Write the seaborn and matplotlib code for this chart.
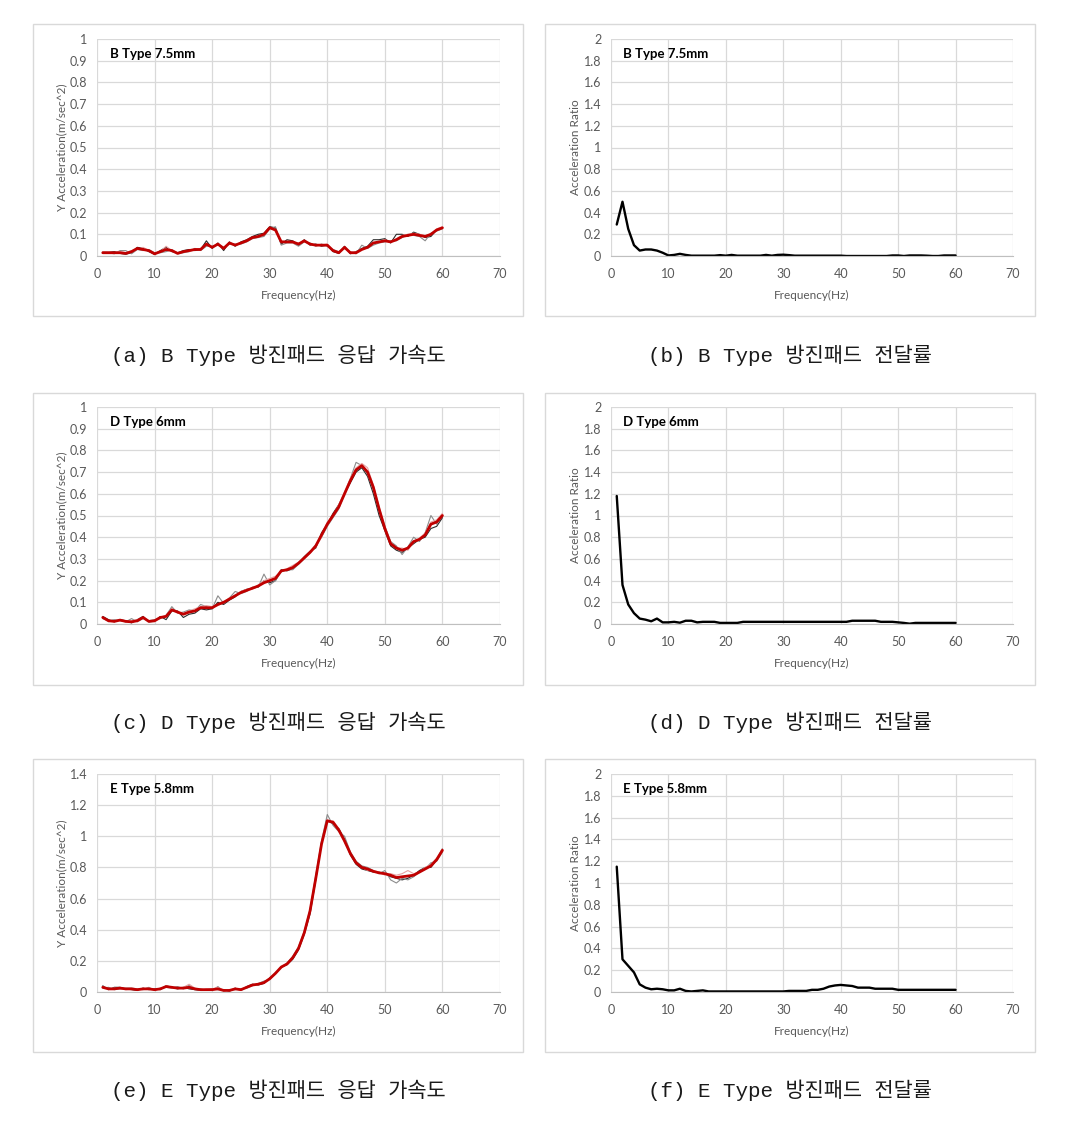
import numpy as np
import pandas as pd
import matplotlib
matplotlib.use("Agg")
import matplotlib.pyplot as plt
import seaborn as sns
from matplotlib.patches import Rectangle
from matplotlib.ticker import FuncFormatter

# ============================================================
# Data
# ============================================================

freq = list(range(1, 61))

# B Type 7.5mm - response acceleration (red = mean, others = runs)
b_mean = [0.015, 0.015, 0.015, 0.015, 0.012, 0.02, 0.035, 0.03, 0.025, 0.01,
          0.02, 0.03, 0.025, 0.012, 0.02, 0.025, 0.03, 0.03, 0.055, 0.04,
          0.055, 0.035, 0.06, 0.05, 0.06, 0.07, 0.085, 0.09, 0.1, 0.13,
          0.12, 0.065, 0.065, 0.065, 0.055, 0.07, 0.055, 0.05, 0.05, 0.05,
          0.025, 0.015, 0.04, 0.015, 0.015, 0.03, 0.04, 0.06, 0.065, 0.07,
          0.065, 0.075, 0.09, 0.095, 0.1, 0.095, 0.09, 0.1, 0.12, 0.13]
b_run1 = [0.018, 0.017, 0.02, 0.012, 0.008, 0.015, 0.04, 0.035, 0.02, 0.008,
          0.025, 0.04, 0.02, 0.015, 0.025, 0.03, 0.025, 0.03, 0.07, 0.035,
          0.06, 0.025, 0.065, 0.045, 0.065, 0.075, 0.09, 0.1, 0.105, 0.135,
          0.13, 0.055, 0.075, 0.07, 0.05, 0.075, 0.05, 0.055, 0.045, 0.05,
          0.02, 0.012, 0.045, 0.01, 0.02, 0.035, 0.045, 0.075, 0.075, 0.08,
          0.06, 0.1, 0.1, 0.09, 0.11, 0.1, 0.085, 0.09, 0.12, 0.13]
b_run2 = [0.012, 0.015, 0.01, 0.025, 0.025, 0.01, 0.03, 0.025, 0.03, 0.015,
          0.015, 0.02, 0.03, 0.01, 0.015, 0.02, 0.035, 0.025, 0.045, 0.045,
          0.05, 0.04, 0.055, 0.055, 0.055, 0.065, 0.08, 0.085, 0.09, 0.125,
          0.135, 0.05, 0.06, 0.06, 0.045, 0.065, 0.06, 0.045, 0.055, 0.045,
          0.03, 0.02, 0.035, 0.02, 0.01, 0.05, 0.035, 0.05, 0.06, 0.065,
          0.07, 0.07, 0.085, 0.1, 0.095, 0.09, 0.07, 0.105, 0.115, 0.125]
b_run3 = [0.02, 0.018, 0.015, 0.02, 0.015, 0.025, 0.03, 0.04, 0.025, 0.012,
          0.02, 0.045, 0.025, 0.015, 0.02, 0.02, 0.03, 0.035, 0.05, 0.04,
          0.055, 0.04, 0.06, 0.05, 0.06, 0.07, 0.085, 0.09, 0.1, 0.13,
          0.115, 0.07, 0.065, 0.06, 0.06, 0.065, 0.055, 0.05, 0.05, 0.055,
          0.025, 0.018, 0.04, 0.018, 0.018, 0.03, 0.04, 0.06, 0.065, 0.075,
          0.065, 0.08, 0.095, 0.1, 0.105, 0.1, 0.095, 0.1, 0.125, 0.135]

# B Type - transmissibility
b_ratio = [0.29, 0.5, 0.25, 0.1, 0.05, 0.06, 0.06, 0.05, 0.03, 0.005,
           0.01, 0.02, 0.01, 0.003, 0.003, 0.003, 0.003, 0.003, 0.008, 0.003,
           0.01, 0.003, 0.003, 0.003, 0.003, 0.003, 0.01, 0.003, 0.01, 0.012,
           0.008, 0.003, 0.003, 0.003, 0.003, 0.003, 0.003, 0.003, 0.003, 0.003,
           0.0, 0.0, 0.0, 0.0, 0.0, 0.0, 0.0, 0.0, 0.005, 0.005,
           0.0, 0.005, 0.005, 0.005, 0.003, 0.0, 0.0, 0.005, 0.005, 0.005]

# D Type 6mm - response acceleration
d_mean = [0.03, 0.015, 0.012, 0.018, 0.012, 0.01, 0.015, 0.03, 0.012, 0.015,
          0.03, 0.035, 0.065, 0.055, 0.045, 0.055, 0.06, 0.075, 0.075, 0.075,
          0.09, 0.1, 0.115, 0.13, 0.145, 0.155, 0.165, 0.175, 0.19, 0.2,
          0.21, 0.245, 0.25, 0.26, 0.28, 0.305, 0.33, 0.36, 0.41, 0.46,
          0.5, 0.54, 0.6, 0.66, 0.71, 0.73, 0.7, 0.63, 0.53, 0.44,
          0.37, 0.35, 0.34, 0.35, 0.38, 0.39, 0.41, 0.46, 0.47, 0.5]
d_run1 = [0.035, 0.02, 0.01, 0.02, 0.015, 0.005, 0.02, 0.035, 0.01, 0.012,
          0.035, 0.02, 0.06, 0.06, 0.03, 0.045, 0.05, 0.07, 0.065, 0.07,
          0.1, 0.09, 0.11, 0.125, 0.15, 0.16, 0.165, 0.17, 0.2, 0.19,
          0.2, 0.25, 0.245, 0.255, 0.28, 0.31, 0.335, 0.35, 0.42, 0.46,
          0.51, 0.55, 0.6, 0.65, 0.7, 0.72, 0.68, 0.6, 0.5, 0.43,
          0.36, 0.34, 0.33, 0.35, 0.37, 0.39, 0.4, 0.44, 0.45, 0.49]
d_run2 = [0.025, 0.015, 0.02, 0.015, 0.01, 0.025, 0.01, 0.025, 0.015, 0.02,
          0.025, 0.04, 0.08, 0.05, 0.055, 0.065, 0.06, 0.09, 0.08, 0.07,
          0.13, 0.095, 0.12, 0.15, 0.14, 0.15, 0.17, 0.17, 0.23, 0.18,
          0.2, 0.24, 0.25, 0.25, 0.275, 0.3, 0.33, 0.365, 0.4, 0.45,
          0.49, 0.53, 0.6, 0.67, 0.745, 0.73, 0.69, 0.62, 0.52, 0.45,
          0.38, 0.36, 0.32, 0.355, 0.4, 0.38, 0.42, 0.5, 0.46, 0.5]
d_run3 = [0.03, 0.01, 0.015, 0.02, 0.01, 0.015, 0.02, 0.03, 0.015, 0.01,
          0.03, 0.04, 0.07, 0.05, 0.05, 0.06, 0.07, 0.08, 0.085, 0.08,
          0.085, 0.1, 0.12, 0.13, 0.15, 0.16, 0.16, 0.18, 0.2, 0.21,
          0.22, 0.24, 0.255, 0.27, 0.285, 0.3, 0.325, 0.355, 0.4, 0.47,
          0.5, 0.55, 0.61, 0.67, 0.72, 0.74, 0.72, 0.64, 0.54, 0.45,
          0.375, 0.35, 0.35, 0.34, 0.38, 0.395, 0.42, 0.47, 0.48, 0.51]

# D Type - transmissibility
d_ratio = [1.18, 0.36, 0.18, 0.1, 0.05, 0.04, 0.025, 0.05, 0.015, 0.015,
           0.02, 0.012, 0.03, 0.03, 0.015, 0.02, 0.02, 0.02, 0.01, 0.01,
           0.01, 0.01, 0.02, 0.02, 0.02, 0.02, 0.02, 0.02, 0.02, 0.02,
           0.02, 0.02, 0.02, 0.02, 0.02, 0.02, 0.02, 0.02, 0.02, 0.02,
           0.02, 0.03, 0.03, 0.03, 0.03, 0.03, 0.02, 0.02, 0.02, 0.015,
           0.01, 0.003, 0.01, 0.01, 0.01, 0.01, 0.01, 0.01, 0.01, 0.01]

# E Type 5.8mm - response acceleration
e_mean = [0.03, 0.02, 0.02, 0.025, 0.02, 0.02, 0.015, 0.02, 0.02, 0.015,
          0.02, 0.035, 0.03, 0.025, 0.025, 0.03, 0.02, 0.015, 0.015, 0.015,
          0.02, 0.01, 0.01, 0.02, 0.015, 0.03, 0.045, 0.05, 0.06, 0.085,
          0.12, 0.16, 0.18, 0.22, 0.28, 0.38, 0.52, 0.73, 0.95, 1.1,
          1.09, 1.04, 0.97, 0.89, 0.83, 0.8, 0.79, 0.775, 0.765, 0.76,
          0.75, 0.735, 0.74, 0.745, 0.75, 0.77, 0.79, 0.81, 0.85, 0.91]
e_run1 = [0.04, 0.015, 0.03, 0.03, 0.02, 0.015, 0.01, 0.025, 0.015, 0.02,
          0.015, 0.04, 0.03, 0.02, 0.03, 0.02, 0.015, 0.01, 0.015, 0.02,
          0.015, 0.015, 0.005, 0.025, 0.01, 0.035, 0.05, 0.045, 0.055, 0.09,
          0.12, 0.16, 0.175, 0.21, 0.27, 0.37, 0.5, 0.72, 0.96, 1.1,
          1.08, 1.05, 0.98, 0.88, 0.82, 0.79, 0.78, 0.77, 0.77, 0.76,
          0.74, 0.73, 0.72, 0.73, 0.75, 0.78, 0.8, 0.8, 0.85, 0.92]
e_run2 = [0.025, 0.03, 0.015, 0.02, 0.025, 0.025, 0.02, 0.015, 0.03, 0.01,
          0.025, 0.03, 0.025, 0.035, 0.02, 0.045, 0.015, 0.02, 0.01, 0.01,
          0.035, 0.005, 0.015, 0.015, 0.02, 0.025, 0.04, 0.055, 0.07, 0.08,
          0.125, 0.155, 0.185, 0.23, 0.29, 0.39, 0.53, 0.75, 0.97, 1.14,
          1.07, 1.03, 1.0, 0.9, 0.84, 0.81, 0.8, 0.78, 0.76, 0.78,
          0.72, 0.7, 0.73, 0.72, 0.74, 0.77, 0.79, 0.83, 0.84, 0.9]
e_run3 = [0.035, 0.02, 0.025, 0.02, 0.015, 0.02, 0.02, 0.02, 0.025, 0.015,
          0.02, 0.04, 0.03, 0.025, 0.03, 0.05, 0.025, 0.01, 0.02, 0.02,
          0.03, 0.01, 0.01, 0.02, 0.01, 0.03, 0.045, 0.05, 0.06, 0.085,
          0.115, 0.165, 0.18, 0.22, 0.28, 0.38, 0.52, 0.74, 0.95, 1.09,
          1.1, 1.05, 0.96, 0.89, 0.83, 0.8, 0.78, 0.78, 0.77, 0.75,
          0.76, 0.75, 0.76, 0.78, 0.76, 0.77, 0.8, 0.82, 0.86, 0.92]

# E Type - transmissibility
e_ratio = [1.15, 0.3, 0.24, 0.18, 0.07, 0.04, 0.025, 0.03, 0.025, 0.015,
           0.015, 0.03, 0.01, 0.005, 0.01, 0.015, 0.005, 0.005, 0.005, 0.005,
           0.005, 0.005, 0.005, 0.005, 0.005, 0.005, 0.005, 0.005, 0.005, 0.005,
           0.01, 0.01, 0.01, 0.01, 0.02, 0.02, 0.03, 0.05, 0.06, 0.065,
           0.06, 0.055, 0.04, 0.04, 0.04, 0.03, 0.03, 0.03, 0.03, 0.02,
           0.02, 0.02, 0.02, 0.02, 0.02, 0.02, 0.02, 0.02, 0.02, 0.02]

labels = ["B Type 7.5mm", "D Type 6mm", "E Type 5.8mm"]
acc_ymax = [1.0, 1.0, 1.4]
acc_ystep = [0.1, 0.1, 0.2]
left_caps = ["(a) B Type 방진패드 응답 가속도",
             "(c) D Type 방진패드 응답 가속도",
             "(e) E Type 방진패드 응답 가속도"]
right_caps = ["(b) B Type 방진패드 전달률",
              "(d) D Type 방진패드 전달률",
              "(f) E Type 방진패드 전달률"]

acc_runs = [(b_run1, b_run2, b_run3, b_mean),
            (d_run1, d_run2, d_run3, d_mean),
            (e_run1, e_run2, e_run3, e_mean)]
ratios = [b_ratio, d_ratio, e_ratio]

# ============================================================
# Figure setup
# ============================================================

sns.set_style("white")
plt.rcParams["font.family"] = ["Lato", "DejaVu Sans"]

W, H = 1065, 1121
fig = plt.figure(figsize=(W / 100, H / 100), dpi=100)

tick_col = "#595959"
grid_col = "#d9d9d9"


def px_axes(l, r, t, b):
    return fig.add_axes([l / W, 1 - b / H, (r - l) / W, (b - t) / H])


def style_axes(ax, ymax, ystep, ylabel):
    ax.set_xlim(0, 70)
    ax.set_ylim(0, ymax)
    ax.set_xticks(np.arange(0, 71, 10))
    ax.set_yticks(np.arange(0, ymax + ystep / 2, ystep))
    ax.yaxis.set_major_formatter(FuncFormatter(lambda v, p: f"{round(v, 2):g}"))
    ax.grid(True, color=grid_col, linewidth=0.9)
    ax.set_axisbelow(True)
    for s in ["top", "right", "left"]:
        ax.spines[s].set_visible(False)
    ax.spines["bottom"].set_color("#bfbfbf")
    ax.tick_params(axis="x", length=0, labelsize=9, labelcolor=tick_col, pad=9)
    ax.tick_params(axis="y", length=0, labelsize=9, labelcolor=tick_col, pad=7)
    ax.set_xlabel("Frequency(Hz)", fontsize=8.5, color=tick_col, labelpad=7)
    ax.set_ylabel(ylabel, fontsize=8.5, color=tick_col, labelpad=2)


row_box = [(24, 316), (393, 685), (759, 1052)]
row_axes = [(39, 256), (407, 624), (774, 992)]
cap_y = [355, 722, 1090]

thin_cols = ["#2b2b2b", "#8c8c8c", "#e6a3a3"]

for i in range(3):
    bt, bb = row_box[i]
    at, ab = row_axes[i]

    # panel frames
    for bl, br in [(33, 523), (545, 1035)]:
        fig.patches.append(Rectangle((bl / W, 1 - bb / H), (br - bl) / W, (bb - bt) / H,
                                     transform=fig.transFigure, fill=False,
                                     edgecolor=grid_col, linewidth=1.0))

    # left: response acceleration
    ax = px_axes(97, 500, at, ab)
    r1, r2, r3, mean = acc_runs[i]
    for run, c in zip([r1, r2, r3], thin_cols):
        sns.lineplot(x=freq, y=run, ax=ax, color=c, linewidth=0.8)
    sns.lineplot(x=freq, y=mean, ax=ax, color="#c00000", linewidth=2.0)
    style_axes(ax, acc_ymax[i], acc_ystep[i], "Y Acceleration(m/sec^2)")
    ax.text(0.032, 0.93, labels[i], transform=ax.transAxes, fontsize=9.5,
            fontweight="bold", color="#000000", va="center", ha="left")

    # right: transmissibility
    ax2 = px_axes(611, 1013, at, ab)
    sns.lineplot(x=freq, y=ratios[i], ax=ax2, color="#000000", linewidth=1.7)
    style_axes(ax2, 2.0, 0.2, "Acceleration Ratio")
    ax2.text(0.03, 0.93, labels[i], transform=ax2.transAxes, fontsize=9.5,
             fontweight="bold", color="#000000", va="center", ha="left")

    # captions (Batang-like: fixed-width Latin, full-width Hangul)
    cap_font = ["Liberation Mono", "Noto Sans CJK KR"]
    fig.text(278 / W, 1 - cap_y[i] / H, left_caps[i], ha="center", va="center",
             fontsize=15, family=cap_font, color="#1a1a1a")
    fig.text(790 / W, 1 - cap_y[i] / H, right_caps[i], ha="center", va="center",
             fontsize=15, family=cap_font, color="#1a1a1a")

fig.savefig("out.png", dpi=100, facecolor="white")
